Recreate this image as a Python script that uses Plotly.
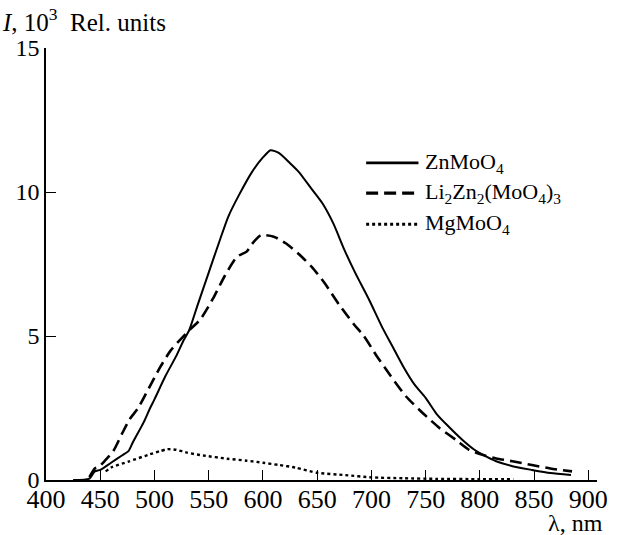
import plotly.graph_objects as go

# ZnMoO4 (solid)
zn_x = [425, 440, 445, 450, 460, 470, 476, 480, 490, 496, 500, 510, 520, 527, 532, 540, 550, 560, 568,
        578, 590, 600, 607, 615, 625, 633, 645, 655, 665, 675, 685, 698, 710, 720, 730, 740, 750, 760,
        770, 784, 795, 803, 815, 830, 848, 865, 884]
zn_y = [0.0, 0.05, 0.3, 0.35, 0.6, 0.85, 1.0, 1.3, 2.0, 2.5, 2.8, 3.6, 4.3, 4.86, 5.2, 6.1, 7.2, 8.3, 9.14,
        9.9, 10.7, 11.2, 11.45, 11.35, 11.0, 10.7, 10.1, 9.6, 8.9, 8.0, 7.2, 6.25, 5.3, 4.6, 3.9, 3.3, 2.85, 2.3,
        1.9, 1.39, 1.05, 0.87, 0.65, 0.48, 0.35, 0.24, 0.17]

# Li2Zn2(MoO4)3 (dashed)
li_x = [440, 445, 450, 455, 462, 470, 477, 485, 495, 505, 515, 532, 542, 555, 565, 576, 585, 590, 598,
        610, 621, 633, 645, 657, 670, 684, 693, 705, 718, 732, 748, 763, 778, 790, 800, 815, 830, 848, 865, 885]
li_y = [0.1, 0.4, 0.5, 0.7, 1.0, 1.6, 2.1, 2.5, 3.2, 3.9, 4.5, 5.2, 5.56, 6.37, 7.1, 7.75, 7.93, 8.2, 8.5,
        8.45, 8.22, 7.85, 7.4, 6.83, 6.1, 5.4, 5.0, 4.3, 3.6, 2.9, 2.3, 1.8, 1.39, 1.05, 0.9, 0.75, 0.65, 0.52, 0.4, 0.3]

# MgMoO4 (dotted)
mg_x = [455, 461, 476, 494, 505, 512, 520, 530, 545, 567, 585, 600, 615, 630, 650, 676, 700, 730, 760, 800, 831]
mg_y = [0.3, 0.45, 0.64, 0.87, 1.0, 1.07, 1.05, 0.95, 0.85, 0.74, 0.67, 0.6, 0.52, 0.43, 0.25, 0.17, 0.09,
        0.06, 0.04, 0.03, 0.03]

names = ["ZnMoO<sub>4</sub>", "Li<sub>2</sub>Zn<sub>2</sub>(MoO<sub>4</sub>)<sub>3</sub>", "MgMoO<sub>4</sub>"]
dashes = ["solid", "12px,6px", "3px,3px"]
widths = [2, 2.6, 2.4]

x_ticks = [400, 450, 500, 550, 600, 650, 700, 750, 800, 850, 900]
y_ticks = [0, 5, 10, 15]

FONT = "Liberation Serif"

fig = go.Figure()
for xs, ys, nm, d, w in zip([zn_x, li_x, mg_x], [zn_y, li_y, mg_y], names, dashes, widths):
    fig.add_trace(go.Scatter(x=xs, y=ys, mode="lines", name=nm,
                             line=dict(color="black", width=w, dash=d, shape="spline", smoothing=0.6),
                             showlegend=False))

# manual legend
leg_y = [0.734, 0.664, 0.592]
for ly, nm, d, w in zip(leg_y, names, dashes, widths):
    fig.add_shape(type="line", xref="paper", yref="paper", x0=0.581, x1=0.676, y0=ly, y1=ly,
                  line=dict(color="black", width=w + 0.6, dash=d))
    fig.add_annotation(xref="paper", yref="paper", x=0.684, y=ly, text=nm, showarrow=False,
                       xanchor="left", yanchor="middle", font=dict(family=FONT, size=22, color="black"))

fig.add_annotation(xref="paper", yref="paper", x=1.015, y=-0.1, text="λ, nm", showarrow=False,
                   xanchor="right", yanchor="middle", font=dict(family=FONT, size=24, color="black"))
fig.add_annotation(xref="paper", yref="paper", x=-0.084, y=1.022, text="<i>I</i>, 10<sup>3</sup>  Rel. units",
                   showarrow=False, xanchor="left", yanchor="bottom",
                   font=dict(family=FONT, size=25, color="black"))

axis_common = dict(showline=True, linecolor="black", linewidth=1.5, ticks="inside", ticklen=10,
                   tickwidth=1.3, tickcolor="black", showgrid=False, zeroline=False)
fig.update_xaxes(range=[400, 908], tickvals=x_ticks, ticktext=[str(v) for v in x_ticks],
                 tickfont=dict(family=FONT, size=26, color="black"), ticklabelstandoff=-5, **axis_common)
fig.update_yaxes(range=[0, 15], tickvals=y_ticks, ticktext=[str(v) for v in y_ticks],
                 tickfont=dict(family=FONT, size=24, color="black"), **axis_common)

fig.update_layout(width=620, height=535, margin=dict(l=46, r=13, t=48, b=55),
                  plot_bgcolor="white", paper_bgcolor="white", showlegend=False)

fig.write_html("out.html", config={"displayModeBar": False},
               post_script="document.body.style.margin='0';")
